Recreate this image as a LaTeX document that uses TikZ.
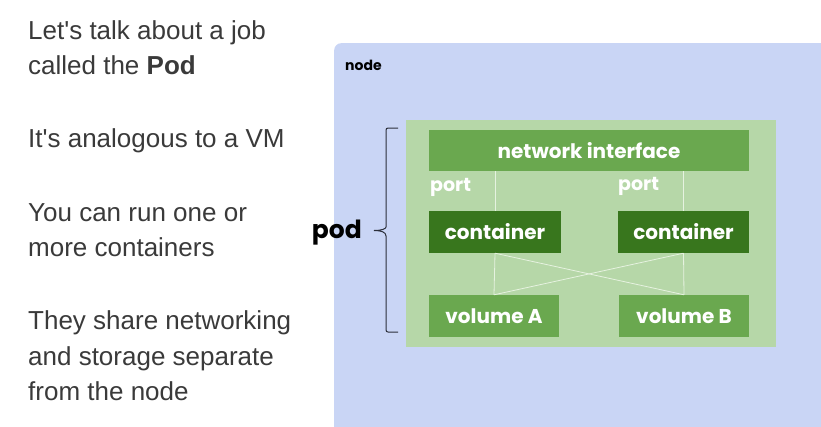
\documentclass[tikz,border=0pt]{standalone}
\usepackage{fontspec}
\setmainfont{Liberation Sans}[Ligatures=TeXOff]
\newfontfamily\dfont{Poppins}
\definecolor{nodebg}{HTML}{C9D5F5}
\definecolor{podbg}{HTML}{B6D7A8}
\definecolor{midgreen}{HTML}{6AA84F}
\definecolor{darkgreen}{HTML}{38761D}
\definecolor{bodytext}{HTML}{3A3A3A}
\definecolor{linkc}{HTML}{E6F2E0}
\definecolor{bracec}{HTML}{2B2F3A}
\tikzset{
  body/.style={anchor=base west, inner sep=0pt, text=bodytext, font=\fontsize{26}{30}\selectfont},
  gbox/.style={fill=midgreen, text=white, inner sep=0pt, font=\dfont\bfseries\fontsize{20}{22}\selectfont},
  cbox/.style={gbox, fill=darkgreen},
  portlbl/.style={anchor=west, inner sep=0pt, text=white, font=\dfont\bfseries\fontsize{19}{20}\selectfont},
  link/.style={draw=linkc, line width=0.8pt},
  bracestyle/.style={draw=bracec, line width=1pt},
}
\begin{document}
\begin{tikzpicture}[x=1pt,y=-1pt]
\useasboundingbox (0,0) rectangle (821,426);
\fill[white] (0,0) rectangle (821,426);
% left text
\node[body] (t1) at (28,39) {Let's talk about a job};
\node[body] (t2) at (28,74) {called the \textbf{Pod}};
\node[body] (t3) at (28,147) {It's analogous to a VM};
\node[body] (t4) at (28,221) {You can run one or};
\node[body] (t5) at (28,256) {more containers};
\node[body] (t6) at (28,329) {They share networking};
\node[body] (t7) at (28,365) {and storage separate};
\node[body] (t8) at (28,400) {from the node};
% node area
\node[fill=nodebg, rounded corners=7pt, anchor=north west, minimum width=520pt, minimum height=420pt, inner sep=0pt] (nodearea) at (334,43) {};
\node[anchor=base west, inner sep=0pt, font=\dfont\bfseries\fontsize{14}{16}\selectfont] (nodelbl) at (345,70) {node};
% pod
\node[fill=podbg, minimum width=370pt, minimum height=227pt, inner sep=0pt] (pod) at (591,233.5) {};
\node[gbox, minimum width=320pt, minimum height=41pt] (netif) at (589,150.5) {network interface};
\node[cbox, minimum width=132pt, minimum height=42pt] (cL) at (495,232) {container};
\node[cbox, minimum width=131pt, minimum height=42pt] (cR) at (683.5,232) {container};
\node[gbox, minimum width=130pt, minimum height=42pt] (vA) at (494,316) {volume A};
\node[gbox, minimum width=130pt, minimum height=42pt] (vB) at (684,316) {volume B};
\node[portlbl] (pL) at (430,187) {port};
\node[portlbl] (pR) at (618,186) {port};
\draw[link] (cL.north) -- (cL.north |- netif.south);
\draw[link] (cR.north) -- (cR.north |- netif.south);
\draw[link] (cL.south) -- (vA.north);
\draw[link] (cR.south) -- (vB.north);
\draw[link] (cL.south) -- (vB.north);
\draw[link] (cR.south) -- (vA.north);
% brace
\coordinate (bt) at (398,128);
\coordinate (bb) at (398,332);
\coordinate (btip) at (374,230.5);
\draw[bracestyle] (bt) [rounded corners=2pt] -- (386,128) -- (386,225) [sharp corners]
  .. controls (386,229) and (381,230.5) .. (btip)
  .. controls (381,230.5) and (386,232) .. (386,236)
  [rounded corners=2pt] -- (386,332) -- (bb);
\node[anchor=base east, inner sep=0pt, font=\dfont\bfseries\fontsize{25}{28}\selectfont] (podlbl) at (362,238) {pod};
\end{tikzpicture}
\end{document}
